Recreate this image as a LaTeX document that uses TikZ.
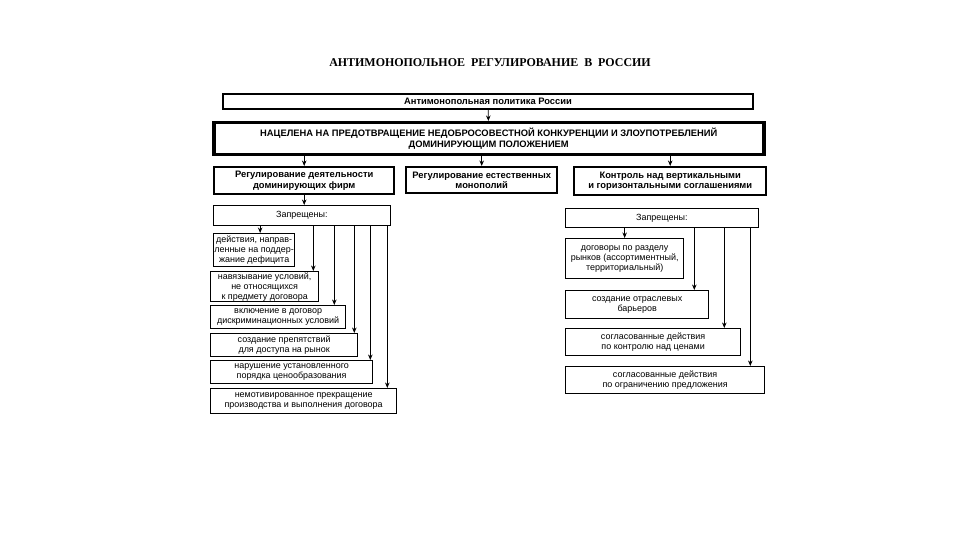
\documentclass[tikz,border=0pt]{standalone}
\usepackage{fontspec}
\setmainfont{Liberation Serif}
\newfontfamily\arialfam{Liberation Sans}
\newcommand\boxtxt{\arialfam\fontsize{9}{10}\selectfont}
\newcommand\boxbold{\arialfam\bfseries\fontsize{9.4}{10.5}\selectfont}
\usetikzlibrary{arrows.meta}

\tikzset{
  box/.style={draw, anchor=north west, align=center, inner sep=0.5bp, font=\boxtxt, line width=1.3bp},
  ban/.style={box, line width=0.8bp},
  head/.style={box, line width=2.4bp, font=\boxbold},
  wh/.style 2 args={minimum width=#1bp, minimum height=#2bp},
  link/.style={->, line width=0.8bp}
}

\begin{document}
\begin{tikzpicture}[x=1bp,y=-1bp,>={Stealth[length=5.5bp,width=4.5bp]}]
\useasboundingbox (0,0) rectangle (960,540);

\node[font=\bfseries\fontsize{12}{14}\selectfont] (title) at (490,63)
  {АНТИМОНОПОЛЬНОЕ\ \ РЕГУЛИРОВАНИЕ\ \ В\ \ РОССИИ};

% top of the scheme
\node[head, line width=2bp, wh={530}{15}] (pol) at (222,93) {Антимонопольная политика России};
\node[head, line width=3.5bp, wh={550}{32}] (goal) at (212,121)
  {НАЦЕЛЕНА НА ПРЕДОТВРАЩЕНИЕ НЕДОБРОСОВЕСТНОЙ КОНКУРЕНЦИИ И ЗЛОУПОТРЕБЛЕНИЙ\\ДОМИНИРУЮЩИМ ПОЛОЖЕНИЕМ};
\draw[link] (pol) -- (goal);

% three directions
\node[head, wh={180}{27}] (dom) at (213,166) {Регулирование деятельности\\доминирующих фирм};
\node[head, wh={151}{26}] (nat) at (405,166) {Регулирование естественных\\монополий};
\node[head, wh={192}{28}] (agr) at (573,166) {Контроль над вертикальными\\и горизонтальными соглашениями};
\foreach \n in {dom,nat,agr}
  \draw[link] (goal.south -| \n) -- (\n);

% left column
\node[ban, wh={177}{20}] (banL) at (213,205) {Запрещены:};
\draw[link] (dom.south) -- (dom.south |- banL.north);

\node[box, wh={81}{33}] (a1) at (213,233) {действия, направ-\\ленные на поддер-\\жание дефицита};
\node[box, wh={108}{30}] (a2) at (210,271) {навязывание условий,\\не относящихся\\к предмету договора};
\node[box, wh={135}{23}] (a3) at (210,305) {включение в договор\\дискриминационных условий};
\node[box, wh={147}{23}] (a4) at (210,333) {создание препятствий\\для доступа на рынок};
\node[box, wh={162}{23}] (a5) at (210,360) {нарушение установленного\\порядка ценообразования};
\node[box, wh={186}{25}] (a6) at (210,388) {немотивированное прекращение\\производства и выполнения договора};

\coordinate (t1) at ([xshift=6bp]a1.north);
\coordinate (t2) at ([xshift=-6bp]a2.north east);
\coordinate (t3) at ([xshift=-12bp]a3.north east);
\coordinate (t4) at ([xshift=-4bp]a4.north east);
\coordinate (t5) at ([xshift=-3bp]a5.north east);
\coordinate (t6) at ([xshift=-10bp]a6.north east);
\foreach \t in {t1,t2,t3,t4,t5,t6}
  \draw[link] (\t |- banL.south) -- (\t);

% right column
\node[ban, wh={193}{19}] (banR) at (565,208) {Запрещены:};

\node[box, wh={118}{40}] (b1) at (565,238) {договоры по разделу\\рынков (ассортиментный,\\территориальный)};
\node[box, wh={143}{28}] (b2) at (565,290) {создание отраслевых\\барьеров};
\node[box, wh={175}{27}] (b3) at (565,328) {согласованные действия\\по контролю над ценами};
\node[box, wh={199}{27}] (b4) at (565,366) {согласованные действия\\по ограничению предложения};

\coordinate (s1) at (b1.north);
\coordinate (s2) at ([xshift=-15bp]b2.north east);
\coordinate (s3) at ([xshift=-17bp]b3.north east);
\coordinate (s4) at ([xshift=-15bp]b4.north east);
\foreach \s in {s1,s2,s3,s4}
  \draw[link] (\s |- banR.south) -- (\s);

\end{tikzpicture}
\end{document}
